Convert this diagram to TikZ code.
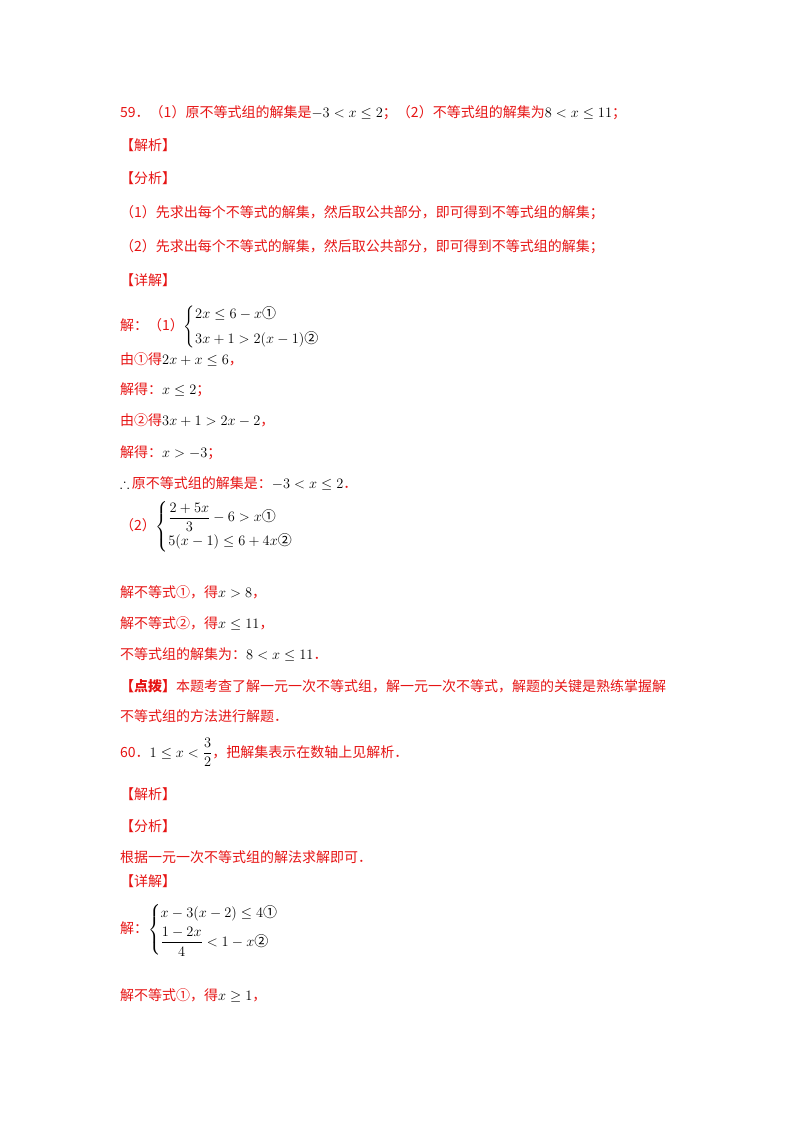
\documentclass[tikz,border=0pt]{standalone}
\usepackage{fontspec}
\usepackage{amsmath,amssymb}
\newfontfamily\cjk{Noto Sans CJK SC}
\definecolor{rd}{RGB}{230,20,20}
\begin{document}
\begin{tikzpicture}[x=1pt,y=-1pt]
\tikzset{ln/.style={anchor=base west,inner sep=0pt,font=\fontsize{14}{16}\selectfont\cjk,text=rd},
 sy/.style={anchor=west,inner sep=0pt,font=\fontsize{14}{16}\selectfont\cjk,text=rd}}
\useasboundingbox (0,0) rectangle (800,1132);
\node[ln] (l1) at (120,117) {59．（1）原不等式组的解集是\textcolor{black}{$-3<x\le2$}；（2）不等式组的解集为\textcolor{black}{$8<x\le11$}；};
\node[ln] (l2) at (120,150) {【解析】};
\node[ln] (l3) at (120,183) {【分析】};
\node[ln] (l4) at (120,217) {（1）先求出每个不等式的解集，然后取公共部分，即可得到不等式组的解集；};
\node[ln] (l5) at (120,251) {（2）先求出每个不等式的解集，然后取公共部分，即可得到不等式组的解集；};
\node[ln] (l6) at (120,285) {【详解】};
\node[sy] (s1) at (120,327) {解：（1）\textcolor{black}{$\begin{cases}2x\le6-x\text{①}\\[6pt]3x+1>2(x-1)\text{②}\end{cases}$}};
\node[ln] (l7) at (120,364) {由①得\textcolor{black}{$2x+x\le6$}，};
\node[ln] (l8) at (120,394) {解得：\textcolor{black}{$x\le2$}；};
\node[ln] (l9) at (120,425) {由②得\textcolor{black}{$3x+1>2x-2$}，};
\node[ln] (l10) at (120,457) {解得：\textcolor{black}{$x>-3$}；};
\node[ln] (l11) at (120,488) {\textcolor{black}{$\therefore$}\,原不等式组的解集是：\textcolor{black}{$-3<x\le2$}．};
\node[sy] (s2) at (120,527) {（2）\textcolor{black}{$\begin{cases}\dfrac{2+5x}{3}-6>x\text{①}\\[4pt]5(x-1)\le6+4x\text{②}\end{cases}$}};
\node[ln] (l12) at (120,597) {解不等式①，得\textcolor{black}{$x>8$}，};
\node[ln] (l13) at (120,628) {解不等式②，得\textcolor{black}{$x\le11$}，};
\node[ln] (l14) at (120,659) {不等式组的解集为：\textcolor{black}{$8<x\le11$}．};
\node[ln] (l15) at (120,691) {\textbf{【点拨】}本题考查了解一元一次不等式组，解一元一次不等式，解题的关键是熟练掌握解};
\node[ln] (l16) at (120,721) {不等式组的方法进行解题．};
\node[ln] (l17) at (120,757) {60．\textcolor{black}{$1\le x<\dfrac{3}{2}$}，把解集表示在数轴上见解析．};
\node[ln] (l18) at (120,799) {【解析】};
\node[ln] (l19) at (120,831) {【分析】};
\node[ln] (l20) at (120,862) {根据一元一次不等式组的解法求解即可．};
\node[ln] (l21) at (120,886) {【详解】};
\node[sy] (s3) at (120,930) {解：\textcolor{black}{$\begin{cases}x-3(x-2)\le4\text{①}\\[4pt]\dfrac{1-2x}{4}<1-x\text{②}\end{cases}$}};
\node[ln] (l22) at (120,1000) {解不等式①，得\textcolor{black}{$x\ge1$}，};
\end{tikzpicture}
\end{document}
